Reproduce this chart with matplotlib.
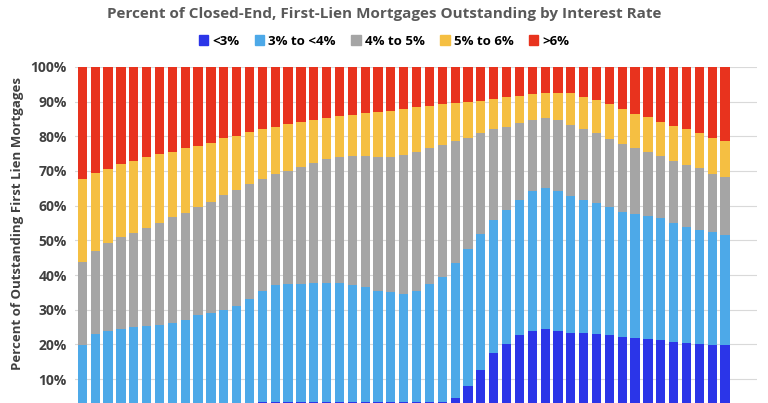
import matplotlib
matplotlib.use("Agg")
import matplotlib.pyplot as plt
import numpy as np
from matplotlib.patches import Patch

plt.rcParams['font.family'] = ['Open Sans', 'DejaVu Sans']

labels = ["<3%", "3% to <4%", "4% to 5%", "5% to 6%", ">6%"]
colors = ["#2B35E8", "#4DA9E8", "#A5A5A5", "#F5BF42", "#E8331E"]

# cumulative shares (%), one value per quarter
cum_lt3 = [0.5, 0.7, 0.9, 1.1, 1.3, 1.5, 1.7, 1.9, 2.1, 2.3, 2.5, 2.7, 2.9, 3.1,
           3.3, 3.4, 3.5, 3.5, 3.5, 3.5, 3.5, 3.4, 3.4, 3.3, 3.3, 3.3, 3.3, 3.3,
           3.5, 4.7, 7.9, 12.7, 17.5, 20.1, 22.6, 24.0, 24.4, 23.9, 23.4, 23.2,
           22.9, 22.6, 22.1, 21.8, 21.6, 21.2, 20.8, 20.5, 20.2, 19.9, 19.8]
cum_lt4 = [19.9, 23.1, 23.9, 24.5, 24.9, 25.2, 25.5, 26.1, 27.1, 28.5, 29.2, 30.0,
           31.2, 33.0, 35.3, 37.2, 37.4, 37.4, 37.7, 37.8, 37.7, 37.2, 36.5, 35.4,
           35.0, 34.5, 35.5, 37.4, 39.4, 43.4, 47.5, 51.8, 55.9, 58.8, 61.7, 64.1,
           65.2, 64.1, 62.9, 61.7, 60.9, 59.7, 58.3, 57.6, 57.0, 56.4, 55.0, 54.0,
           53.0, 52.4, 51.6]
cum_le5 = [43.7, 47.0, 49.2, 50.9, 52.1, 53.5, 55.1, 56.6, 58.0, 59.7, 61.2, 63.1,
           64.6, 66.2, 67.6, 69.2, 70.1, 71.1, 72.2, 73.5, 74.0, 74.4, 74.4, 73.9,
           74.0, 74.6, 75.6, 76.6, 77.5, 78.5, 79.6, 80.9, 82.0, 82.8, 83.8, 84.7,
           85.2, 84.7, 83.3, 82.0, 80.9, 79.2, 77.8, 76.6, 75.6, 74.2, 73.0, 71.8,
           70.8, 69.2, 68.4]
cum_le6 = [67.7, 69.3, 70.6, 72.0, 72.9, 74.0, 74.9, 75.6, 76.6, 77.3, 78.2, 79.4,
           80.2, 81.2, 82.0, 82.6, 83.6, 84.1, 84.7, 85.4, 85.8, 86.2, 86.8, 87.1,
           87.4, 87.9, 88.4, 88.8, 89.2, 89.5, 89.9, 90.3, 90.8, 91.2, 91.7, 92.1,
           92.4, 92.5, 92.4, 91.3, 90.5, 89.2, 87.8, 86.5, 85.5, 84.0, 83.0, 82.0,
           80.9, 79.6, 78.7]
cum_all = [100.0] * len(cum_lt3)
ytick_vals = [0.1, 0.2, 0.3, 0.4, 0.5, 0.6, 0.7, 0.8, 0.9, 1.0]

n = len(cum_lt3)
x = np.arange(n)
cums = [np.array(c) / 100 for c in (cum_lt3, cum_lt4, cum_le5, cum_le6, cum_all)]

fig = plt.figure(figsize=(7.68, 4.03), dpi=100)
ax = fig.add_axes([0.098, -0.027, 0.888, 0.861])
bottom = np.zeros(n)
for c, col in zip(cums, colors):
    ax.bar(x, c - bottom, bottom=bottom, color=col, width=0.72, zorder=3)
    bottom = c

ax.set_xlim(-0.55, 52.5)
ax.set_ylim(0, 1.0)
ax.set_yticks(ytick_vals)
ax.set_yticklabels([f"{int(round(v*100))}%" for v in ytick_vals],
                   fontsize=10, fontweight='bold', color='#404040')
ax.set_xticks([])
ax.grid(axis='y', color='#D9D9D9', linewidth=0.8, zorder=0)
for s in ax.spines.values():
    s.set_visible(False)
ax.tick_params(axis='y', length=0, pad=6)
ax.set_ylabel("Percent of Outstanding First Lien Mortgages", fontsize=9.5,
              fontweight='bold', color='#404040')
ax.yaxis.set_label_coords(-0.075, 0.55)

fig.text(0.5, 0.965, "Percent of Closed-End, First-Lien Mortgages Outstanding by Interest Rate",
         ha='center', va='center', fontsize=11, fontweight='bold', color='#595959')
handles = [Patch(color=c) for c in colors]
fig.legend(handles, labels, loc='center', bbox_to_anchor=(0.5, 0.898), ncol=5,
           frameon=False, handlelength=0.7, handleheight=0.7,
           handletextpad=0.3, columnspacing=1.2,
           prop={'weight': 'bold', 'size': 9.5})
fig.savefig("out.png", dpi=100)
